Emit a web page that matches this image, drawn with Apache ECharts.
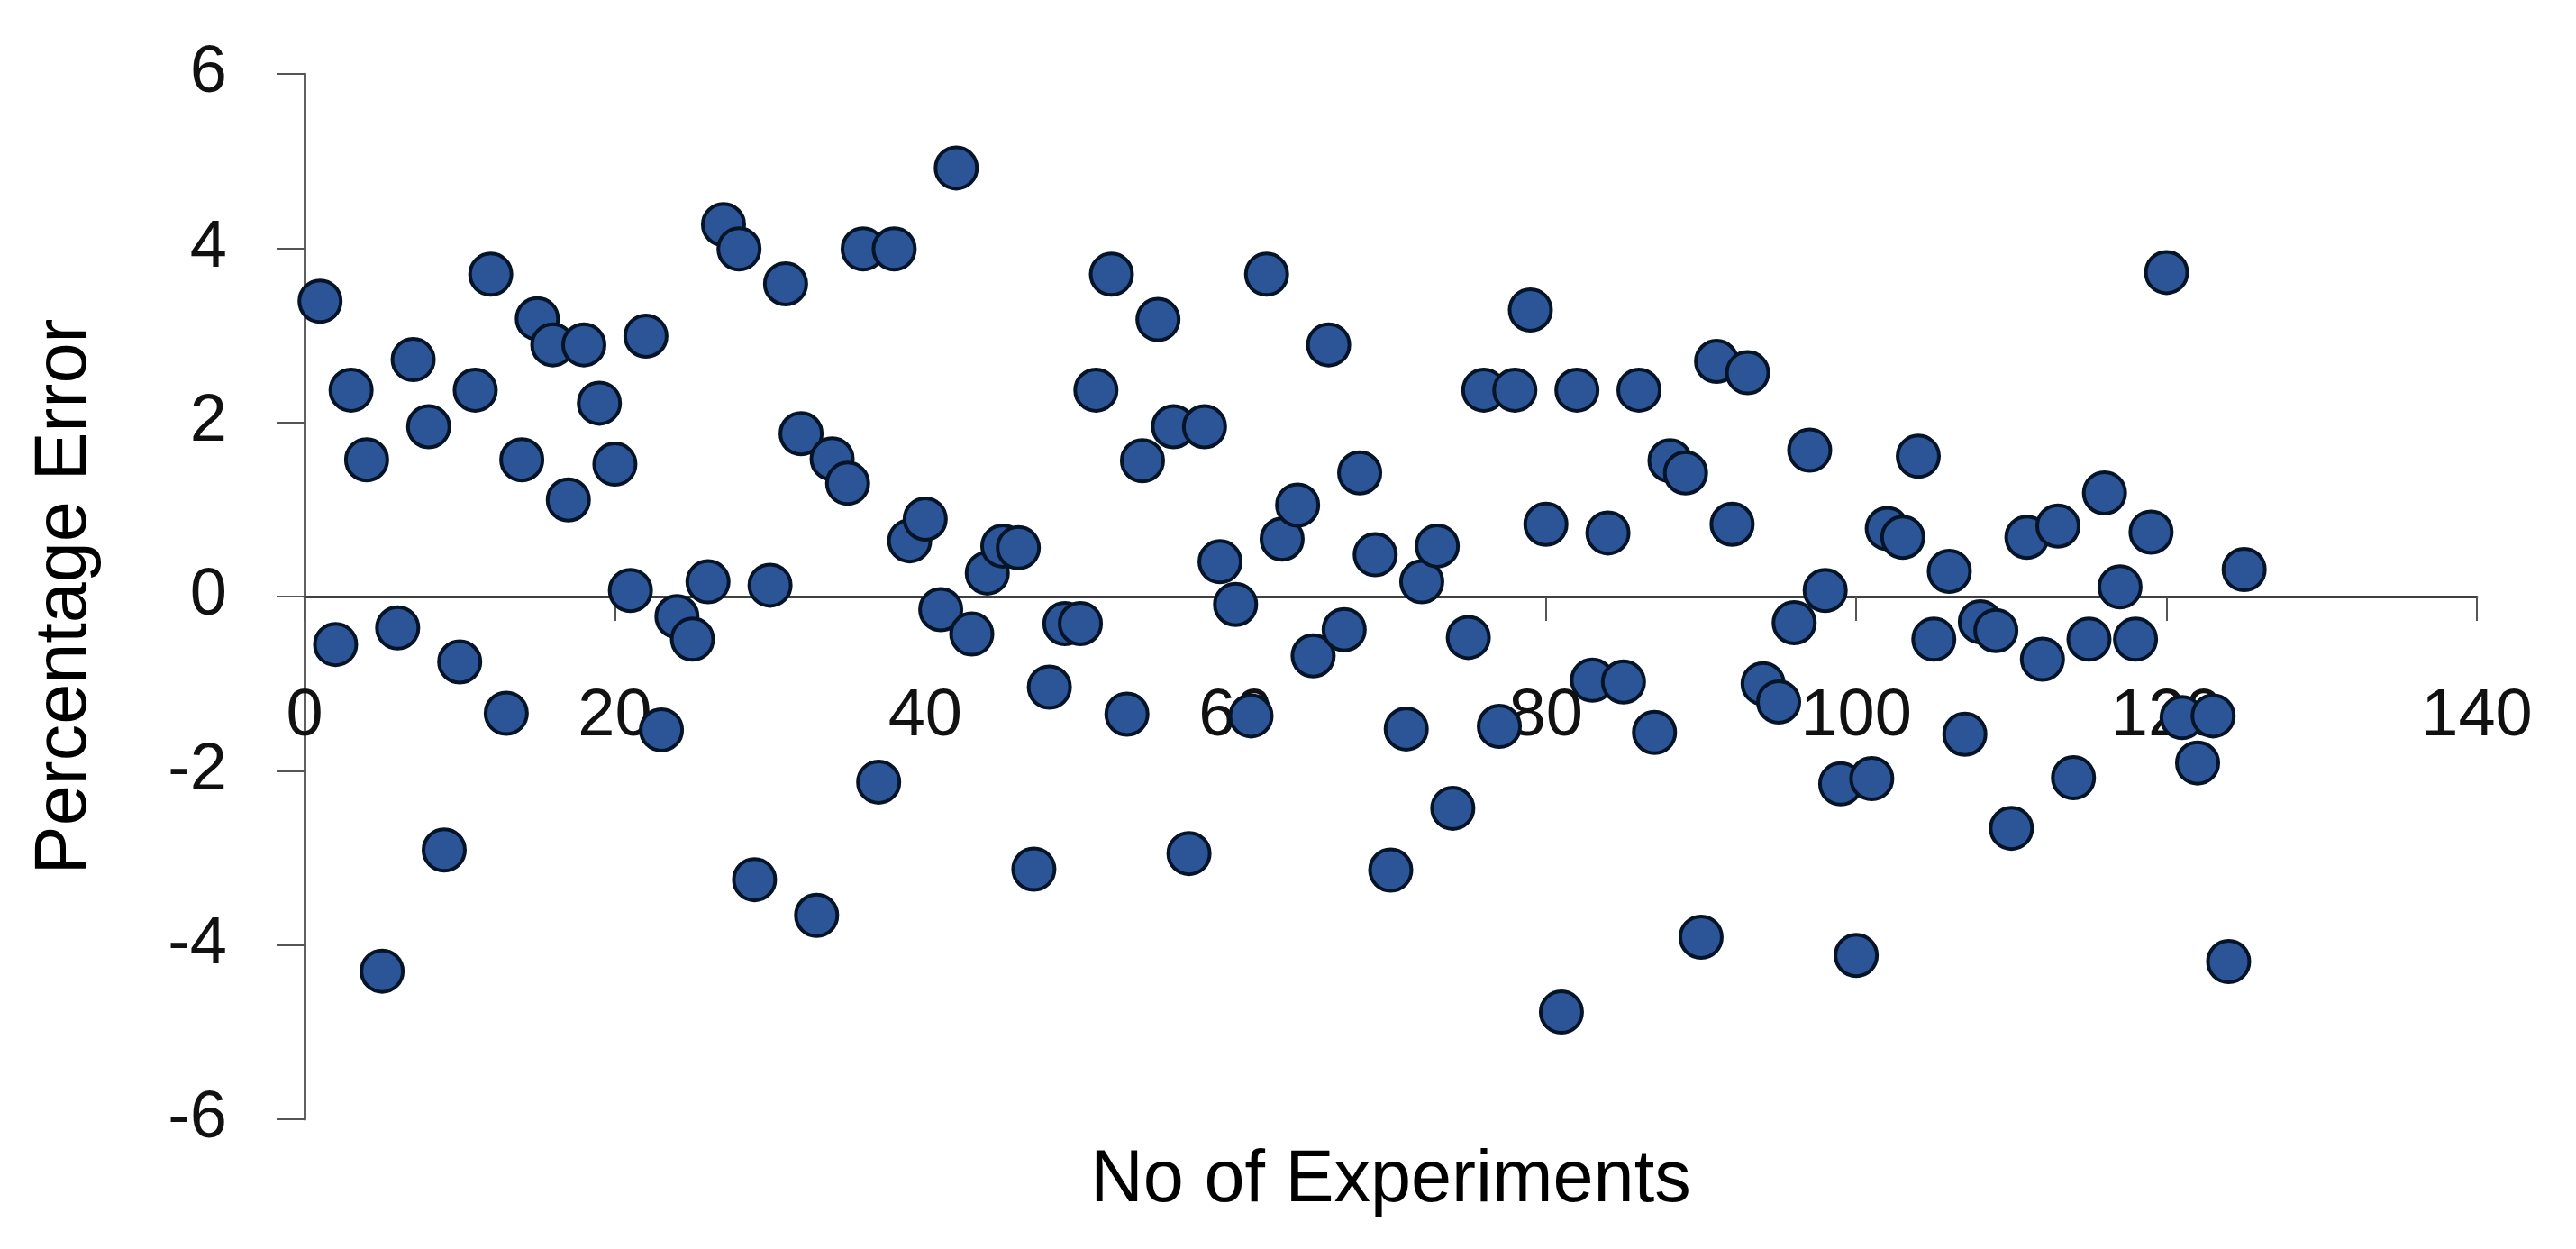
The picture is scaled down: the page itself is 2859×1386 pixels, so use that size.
<!DOCTYPE html>
<html>
<head>
<meta charset="utf-8">
<script src="https://cdn.jsdelivr.net/npm/echarts@6/dist/echarts.min.js"></script>
<style>
html,body{margin:0;padding:0;background:#fff;}
#chart{width:2859px;height:1386px;}
</style>
</head>
<body>
<div id="chart"></div>
<script>
// Experiment numbers 1..125
const experiments = [
  1,2,3,4,5,6,7,8,9,10,11,12,13,14,15,16,17,18,19,20,
  21,22,23,24,25,26,27,28,29,30,31,32,33,34,35,36,37,38,39,40,
  41,42,43,44,45,46,47,48,49,50,51,52,53,54,55,56,57,58,59,60,
  61,62,63,64,65,66,67,68,69,70,71,72,73,74,75,76,77,78,79,80,
  81,82,83,84,85,86,87,88,89,90,91,92,93,94,95,96,97,98,99,100,
  101,102,103,104,105,106,107,108,109,110,111,112,113,114,115,116,117,118,119,120,
  121,122,123,124,125
];
const percentageError = [
  3.39,-0.55,2.37,1.57,-4.30,-0.36,2.72,1.95,-2.91,-0.75,
  2.37,3.70,-1.34,1.57,3.19,2.89,1.11,2.89,2.22,1.52,
  0.07,2.99,-1.53,-0.23,-0.49,0.17,4.27,3.99,-3.25,0.13,
  3.59,1.87,-3.66,1.58,1.30,3.99,-2.13,3.99,0.64,0.89,
  -0.15,4.92,-0.43,0.27,0.58,0.56,-3.13,-1.04,-0.31,-0.31,
  2.37,3.70,-1.35,1.56,3.18,1.95,-2.95,1.95,0.40,-0.09,
  -1.37,3.70,0.66,1.05,-0.68,2.89,-0.38,1.42,0.48,-3.14,
  -1.52,0.17,0.58,-2.43,-0.47,2.37,-1.49,2.37,3.29,0.83,
  -4.77,2.37,-0.96,0.73,-0.98,2.37,-1.56,1.56,1.42,-3.91,
  2.70,0.83,2.57,-1.00,-1.21,-0.30,1.68,0.07,-2.15,-4.12,
  -2.09,0.78,0.68,1.61,-0.49,0.29,-1.58,-0.29,-0.39,-2.66,
  0.68,-0.72,0.81,-2.08,-0.49,1.19,0.11,-0.49,0.74,3.72,
  -1.39,-1.91,-1.37,-4.19,0.31
];
const xTitle = 'No of Experiments';
const yTitle = 'Percentage Error';

const points = experiments.map((x, i) => [x, percentageError[i]]);

const GRID_TOP = 82, GRID_BOTTOM = 144, H = 1386;
// x axis sits on the y = 0 line (middle of a symmetric -6..6 axis)
const zeroOffset = -(H - GRID_TOP - GRID_BOTTOM) / 2;

const chart = echarts.init(document.getElementById('chart'));
const labelFont = "'Liberation Sans', 'DejaVu Sans', sans-serif";
const titleFont = "'Liberation Sans', 'DejaVu Sans', sans-serif";
chart.setOption({
  animation: false,
  backgroundColor: '#ffffff',
  grid: {left: 338, right: 110, top: GRID_TOP, bottom: GRID_BOTTOM, containLabel: false, outerBoundsMode: 'none'},
  xAxis: {
    type: 'value', min: 0, max: 140, interval: 20,
    position: 'bottom', offset: zeroOffset,
    name: xTitle, nameLocation: 'middle', nameGap: 608,
    nameTextStyle: {fontFamily: titleFont, fontSize: 81, color: '#000'},
    axisLine: {onZero: false, lineStyle: {color: '#404040', width: 3}},
    axisTick: {show: true, inside: false, length: 27, lineStyle: {color: '#555', width: 2}},
    axisLabel: {fontFamily: labelFont, fontSize: 74, color: '#111', margin: 97},
    splitLine: {show: false}
  },
  yAxis: {
    type: 'value', min: -6, max: 6, interval: 2,
    name: yTitle, nameLocation: 'middle', nameRotate: 90, nameGap: 225,
    nameTextStyle: {fontFamily: titleFont, fontSize: 81, color: '#000'},
    axisLine: {show: true, lineStyle: {color: '#606060', width: 3}},
    axisTick: {show: true, inside: false, length: 31, lineStyle: {color: '#555', width: 2}},
    axisLabel: {fontFamily: labelFont, fontSize: 74, color: '#111', margin: 86},
    splitLine: {show: false}
  },
  series: [{
    type: 'scatter',
    data: points,
    symbol: 'circle',
    symbolSize: 46,
    itemStyle: {color: '#2B5596', borderColor: '#061428', borderWidth: 4, opacity: 1}
  }]
});
</script>
</body>
</html>
